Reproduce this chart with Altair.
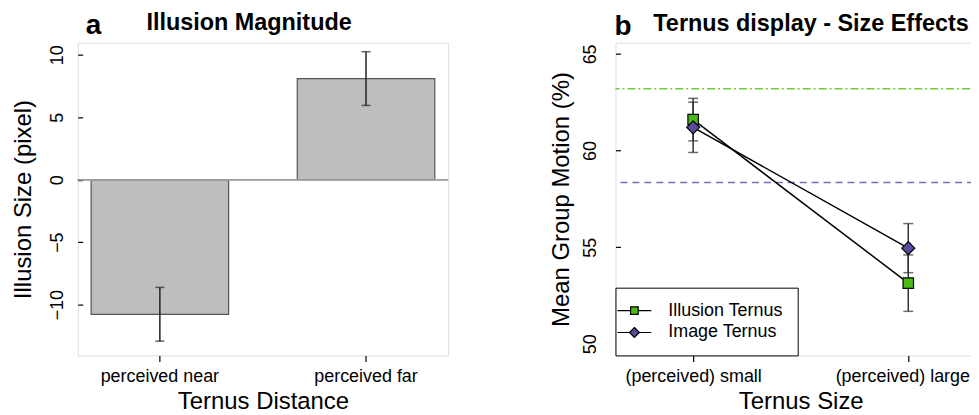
import altair as alt
import pandas as pd

FONT = "Liberation Sans"

# ---------------- data ----------------
DIST_CATS = ["perceived near", "perceived far"]
ILLUSION_SIZE = [-10.77, 8.09]
ILLUSION_SE = [2.15, 2.15]

SIZE_CATS = ["(perceived) small", "(perceived) large"]
SERIES = ["Illusion Ternus", "Image Ternus"]
ILLUSION_TERNUS = [61.6, 53.14]
ILLUSION_TERNUS_SE = [1.1, 1.46]
IMAGE_TERNUS = [61.2, 54.95]
IMAGE_TERNUS_SE = [1.3, 1.27]
BASELINE_LEVELS = [63.2, 58.35]  # Illusion (green dash-dot), Image (purple dashed)

SERIES_FILL = ["#4cbb17", "#5b4a9b"]
REF_COLORS = ["#76c83c", "#7b6db8"]

# legend symbols: marker with a line through it
SQ_PATH = "M-3.4,0H-0.76M0.76,0H3.4M-0.76,-0.76H0.76V0.76H-0.76Z"
DIA_PATH = "M-3.4,0H-1M1,0H3.4M0,-1L1,0L0,1L-1,0Z"

df_a = pd.DataFrame({
    "cat": DIST_CATS,
    "value": ILLUSION_SIZE,
    "lo": [v - e for v, e in zip(ILLUSION_SIZE, ILLUSION_SE)],
    "hi": [v + e for v, e in zip(ILLUSION_SIZE, ILLUSION_SE)],
})

rows = []
for s, means, ses in [(SERIES[0], ILLUSION_TERNUS, ILLUSION_TERNUS_SE),
                      (SERIES[1], IMAGE_TERNUS, IMAGE_TERNUS_SE)]:
    for c, m, e in zip(SIZE_CATS, means, ses):
        rows.append({"size": c, "series": s, "mean": m, "lo": m - e, "hi": m + e})
df_b = pd.DataFrame(rows)
df_ref = pd.DataFrame({"level": BASELINE_LEVELS, "series": SERIES})

W, H = 372, 314

common_axis = dict(
    labelFont=FONT, labelFontSize=18, labelColor="black",
    titleFont=FONT, titleFontSize=24, titleFontWeight="normal", titleColor="black",
    tickColor="black", tickWidth=1.2, domain=False, grid=False,
)


def y_axis(title, values, label_pad):
    return alt.Axis(
        title=title, values=values, labelAngle=270, labelAlign="center",
        labelBaseline="alphabetic", tickSize=5, offset=-5, labelPadding=label_pad,
        titleAngle=270, titleAlign="center", titleBaseline="middle",
        titleX=-59, titleY=H / 2, format="d", **common_axis)


def x_axis(title, **extra):
    return alt.Axis(
        title=title, labelAngle=0, labelBaseline="alphabetic", tickSize=6,
        labelPadding=20, titleBaseline="alphabetic", titleY=53, **extra, **common_axis)


def label_text(txt, x, y, size):
    return alt.Chart(alt.Data(values=[{}])).mark_text(
        text=txt, font=FONT, fontSize=size, fontWeight="bold", align="left",
        baseline="alphabetic", color="black",
    ).encode(x=alt.value(x), y=alt.value(y))


# ---------------- panel a ----------------
xa = alt.X("cat:N", sort=DIST_CATS,
           scale=alt.Scale(paddingInner=0.333, paddingOuter=0.065),
           axis=x_axis("Ternus Distance"))
ya_scale = alt.Scale(domain=[-14.06, 10.96], nice=False)
base_a = alt.Chart(df_a)
bars = base_a.mark_bar(color="#bebebe", stroke="#555555", strokeWidth=1.2).encode(
    x=xa, y=alt.Y("value:Q", scale=ya_scale,
                  axis=y_axis("Illusion Size (pixel)", [-10, -5, 0, 5, 10], 15)))
zero = base_a.mark_rule(color="#9a9a9a", strokeWidth=1.5).encode(y=alt.datum(0))
err_a = base_a.mark_rule(color="#222222", strokeWidth=1.5).encode(
    x=xa, y=alt.Y("lo:Q", scale=ya_scale), y2="hi:Q")
cap_lo_a = base_a.mark_tick(color="#222222", size=9, thickness=1.5).encode(
    x=xa, y=alt.Y("lo:Q", scale=ya_scale))
cap_hi_a = base_a.mark_tick(color="#222222", size=9, thickness=1.5).encode(
    x=xa, y=alt.Y("hi:Q", scale=ya_scale))

panel_a = alt.layer(
    bars, zero, err_a, cap_lo_a, cap_hi_a,
    label_text("a", 8, -8.5, 28),
    label_text("Illusion Magnitude", 69, -12.5, 23.5),
).properties(width=W, height=H)

# ---------------- panel b ----------------
xb = alt.X("size:N", sort=SIZE_CATS, scale=alt.Scale(type="point", padding=0.361),
           axis=x_axis("Ternus Size", labelOffset={
               "condition": {"test": f"datum.value === '{SIZE_CATS[1]}'", "value": -6},
               "value": 0}))
yb_scale = alt.Scale(domain=[49.4, 65.58], nice=False, zero=False)
base_b = alt.Chart(df_b)

ref_green = alt.Chart(df_ref[df_ref["series"] == SERIES[0]]).mark_rule(
    color=REF_COLORS[0], strokeWidth=1.5, strokeDash=[8, 3, 2, 3]).encode(
    y=alt.Y("level:Q", scale=yb_scale))
ref_purple = alt.Chart(df_ref[df_ref["series"] == SERIES[1]]).mark_rule(
    color=REF_COLORS[1], strokeWidth=1.5, strokeDash=[7, 5]).encode(
    y=alt.Y("level:Q", scale=yb_scale))

lines = base_b.mark_line(color="black", strokeWidth=1.5).encode(
    x=xb, y=alt.Y("mean:Q", scale=yb_scale,
                  axis=y_axis("Mean Group Motion (%)", [50, 55, 60, 65], 20)),
    detail="series:N", order=alt.Order("size:N", sort="descending"))
err_b = base_b.mark_rule(color="#333333", strokeWidth=1.5).encode(
    x=xb, y=alt.Y("lo:Q", scale=yb_scale), y2="hi:Q")
cap_lo_b = base_b.mark_tick(color="#333333", size=10, thickness=1.5).encode(
    x=xb, y=alt.Y("lo:Q", scale=yb_scale))
cap_hi_b = base_b.mark_tick(color="#333333", size=10, thickness=1.5).encode(
    x=xb, y=alt.Y("hi:Q", scale=yb_scale))

points = base_b.mark_point(filled=True, stroke="black", strokeWidth=1.2, opacity=1).encode(
    x=xb, y=alt.Y("mean:Q", scale=yb_scale),
    shape=alt.Shape("series:N", scale=alt.Scale(domain=SERIES, range=["square", "diamond"]), legend=None),
    fill=alt.Fill("series:N", scale=alt.Scale(domain=SERIES, range=SERIES_FILL), legend=None),
    size=alt.Size("series:N", scale=alt.Scale(domain=SERIES, range=[110, 170]), legend=None),
)

leg = alt.Legend(
    title=None, orient="bottom-left", offset=0, padding=14, rowPadding=4,
    symbolSize=100, symbolOffset=-4, labelOffset=25, labelFont=FONT,
    labelFontSize=18, labelColor="black", labelLimit=400,
    strokeColor="black", fillColor="white",
    symbolStrokeColor="black", symbolStrokeWidth=1.2,
)
legend_layer = base_b.transform_filter("false").mark_point(
    filled=True, stroke="black", strokeWidth=1.2, opacity=1).encode(
    x=xb, y=alt.Y("mean:Q", scale=yb_scale),
    shape=alt.Shape("series:N", scale=alt.Scale(domain=SERIES, range=[SQ_PATH, DIA_PATH]), legend=leg),
    fill=alt.Fill("series:N", scale=alt.Scale(domain=SERIES, range=SERIES_FILL), legend=leg),
    stroke=alt.Stroke("series:N", scale=alt.Scale(domain=SERIES, range=["black", "black"]), legend=leg),
)

panel_b = alt.layer(
    ref_green, ref_purple, lines, err_b, cap_lo_b, cap_hi_b, points, legend_layer,
    label_text("b", -1, -7.5, 28),
    label_text("Ternus display - Size Effects", 38, -12, 23.5),
).resolve_scale(shape="independent", fill="independent", size="independent",
                stroke="independent"
).properties(width=W, height=H)

chart = alt.hconcat(panel_a, panel_b, spacing=99).properties(
    padding={"left": 3, "top": 2, "right": -17, "bottom": 0}
).configure_view(stroke="black", strokeWidth=1.2).configure(background="white")

chart.save("out.html", embed_options={"renderer": "svg", "actions": False})
